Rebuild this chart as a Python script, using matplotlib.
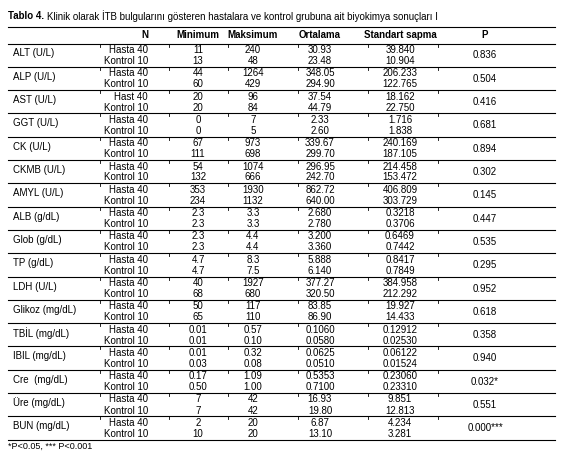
import matplotlib
matplotlib.use("Agg")
import matplotlib.pyplot as plt

tests = ["ALT (U/L)", "ALP (U/L)", "AST (U/L)", "GGT (U/L)", "CK (U/L)", "CKMB (U/L)",
         "AMYL (U/L)", "ALB (g/dL)", "Glob (g/dL)", "TP (g/dL)", "LDH (U/L)", "Glikoz (mg/dL)",
         "TBİL (mg/dL)", "IBIL (mg/dL)", "Cre  (mg/dL)", "Üre (mg/dL)", "BUN (mg/dL)"]
groups_h = ["Hasta 40", "Hasta 40", "Hast 40"] + ["Hasta 40"] * 14
minimum_h = ["11", "44", "20", "0", "67", "54", "353", "2.3", "2.3", "4.7", "40", "50", "0.01", "0.01", "0.17", "7", "2"]
minimum_k = ["13", "60", "20", "0", "111", "132", "234", "2.3", "2.3", "4.7", "68", "65", "0.01", "0.03", "0.50", "7", "10"]
maks_h = ["240", "1264", "96", "7", "973", "1074", "1930", "3.3", "4.4", "8.3", "1927", "117", "0.57", "0.32", "1.09", "42", "20"]
maks_k = ["48", "429", "84", "5", "698", "666", "1132", "3.3", "4.4", "7.5", "680", "110", "0.10", "0.08", "1.00", "42", "20"]
ort_h = ["30.93", "348.05", "37.54", "2.33", "339.67", "296.95", "862.72", "2.680", "3.200", "5.888", "377.27", "83.85",
         "0.1060", "0.0625", "0.5353", "16.93", "6.87"]
ort_k = ["23.48", "294.90", "44.79", "2.60", "299.70", "242.70", "640.00", "2.780", "3.360", "6.140", "320.50", "86.90",
         "0.0580", "0.0510", "0.7100", "19.80", "13.10"]
sd_h = ["39.840", "206.233", "18.162", "1.716", "240.169", "214.458", "406.809", "0.3218", "0.6469", "0.8417", "384.958",
        "19.927", "0.12912", "0.06122", "0.23060", "9.851", "4.234"]
sd_k = ["10.904", "122.765", "22.750", "1.838", "187.105", "153.472", "303.729", "0.3706", "0.7442", "0.7849", "212.292",
        "14.433", "0.02530", "0.01524", "0.23310", "12.813", "3.281"]
p_vals = ["0.836", "0.504", "0.416", "0.681", "0.894", "0.302", "0.145", "0.447", "0.535", "0.295", "0.952", "0.618",
          "0.358", "0.940", "0.032*", "0.551", "0.000***"]
headers = ["N", "Minimum", "Maksimum", "Ortalama", "Standart sapma", "P"]

plt.rcParams['font.family'] = ['Liberation Sans', 'DejaVu Sans']
fs = 7

fig = plt.figure(figsize=(5.63, 4.58), dpi=100)
ax = fig.add_axes([0, 0, 1, 1])
ax.set_xlim(0, 563)
ax.set_ylim(458, 0)
ax.axis("off")

ax.text(8, 16, "Tablo 4.", fontsize=fs, fontweight="bold", va="center")
ax.text(47, 16, "Klinik olarak İTB bulgularını gösteren hastalara ve kontrol grubuna ait biyokimya sonuçları I",
        fontsize=fs, va="center")

left, right = 8, 555
ax.plot([left, right], [27, 27], color="black", lw=0.8)
col_x = [148, 198, 253, 320, 400, 485]
for i, h in enumerate(headers):
    ax.text(col_x[i], 35, h, fontsize=fs, fontweight="bold", va="center",
            ha="right" if i == 0 else "center")

top = 43.5
step = 23.3
ticks = [100, 169, 228, 298, 368, 438]
for i, t in enumerate(tests):
    y0 = top + i * step
    ax.plot([left, right], [y0, y0], color="black", lw=0.8)
    for tx in ticks:
        ax.plot([tx, tx], [y0, y0 + 3], color="black", lw=0.6)
    yh, yk, ym = y0 + 6.5, y0 + 17.5, y0 + 12
    ax.text(13, ym - 2, t, fontsize=fs, va="center")
    ax.text(148, yh, groups_h[i], fontsize=fs, va="center", ha="right")
    ax.text(148, yk, "Kontrol 10", fontsize=fs, va="center", ha="right")
    for cx, a, b in [(198, minimum_h, minimum_k), (253, maks_h, maks_k), (320, ort_h, ort_k), (400, sd_h, sd_k)]:
        ax.text(cx, yh, a[i], fontsize=fs, va="center", ha="center")
        ax.text(cx, yk, b[i], fontsize=fs, va="center", ha="center")
    ax.text(485, ym, p_vals[i], fontsize=fs, va="center", ha="center")
ybot = top + len(tests) * step
ax.plot([left, right], [ybot, ybot], color="black", lw=0.8)
ax.text(8, ybot + 7, "*P<0.05, *** P<0.001", fontsize=6.5, va="center")

fig.savefig("out.png", dpi=100)
